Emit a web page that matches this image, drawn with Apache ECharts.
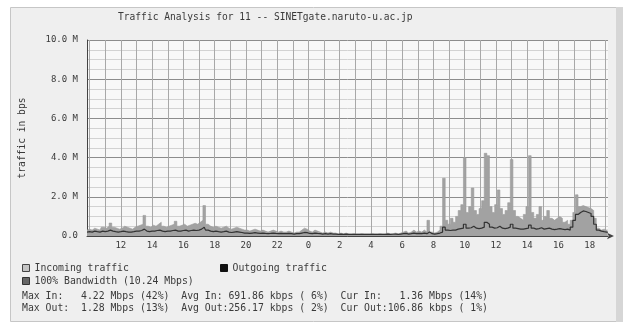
<!DOCTYPE html>
<html>
<head>
<meta charset="utf-8">
<script src="https://cdn.jsdelivr.net/npm/echarts@6/dist/echarts.min.js"></script>
<style>
  html, body { margin: 0; padding: 0; background: #fff; }
  #chart { width: 628px; height: 323px; }
</style>
</head>
<body>
<div id="chart"></div>
<script>
// samples every 10 minutes, starting 9:50 of day one
const startMinute = 9 * 60 + 50;
const stepMinutes = 10;

// incoming traffic, Mbps
const incoming = [
  0.3, 0.35, 0.3, 0.4, 0.35, 0.3, 0.45, 0.4, 0.5, 0.66, 0.45,
  0.4, 0.35, 0.4, 0.5, 0.45, 0.4, 0.35, 0.45, 0.5, 0.55, 0.6,
  1.05,
  0.5, 0.45, 0.55, 0.5, 0.6, 0.7, 0.5, 0.45, 0.5, 0.55, 0.6,
  0.75,
  0.5, 0.55, 0.6, 0.5, 0.55, 0.6, 0.65, 0.6, 0.7, 0.8,
  1.55,
  0.6, 0.5, 0.45, 0.5, 0.45, 0.4, 0.45, 0.5, 0.4, 0.35, 0.4, 0.45, 0.4, 0.35, 0.3,
  0.3, 0.25, 0.3, 0.35, 0.3, 0.25, 0.3, 0.25, 0.2, 0.25, 0.3, 0.25, 0.2, 0.25, 0.2, 0.2, 0.25, 0.2, 0.15, 0.2,
  0.2, 0.3, 0.4, 0.35, 0.25, 0.2, 0.3, 0.25, 0.2, 0.15, 0.2, 0.15, 0.2, 0.15, 0.15, 0.1, 0.15, 0.1, 0.15, 0.1,
  0.1, 0.12, 0.1, 0.1, 0.12, 0.1, 0.1, 0.1, 0.12, 0.1, 0.1, 0.12, 0.1, 0.1, 0.15, 0.1, 0.12, 0.15, 0.1, 0.15,
  0.2, 0.25, 0.15, 0.2, 0.3, 0.2, 0.25, 0.2, 0.3, 0.2, 0.8, 0.2, 0.15, 0.2, 0.3, 0.5, 2.95, 0.8, 0.6, 0.9,
  0.7, 1.0, 1.3, 1.6, 4.0, 1.2, 1.5, 2.45, 1.3, 1.1, 1.4, 1.8, 4.22, 4.1, 1.5, 1.2, 1.6, 2.35, 1.4, 1.1,
  1.3, 1.7, 3.9, 1.3, 1.0, 0.9, 0.8, 1.1, 1.5, 4.1, 1.2, 0.9, 1.1, 1.5, 0.8, 1.0, 1.3, 0.9, 0.8, 0.9,
  1.0, 0.9, 0.7, 0.8, 0.6, 0.8, 1.2, 2.1, 1.5, 1.55, 1.5, 1.45, 1.4, 1.3, 0.9, 0.4, 0.3, 0.35, 0.3, 0.3
];

// outgoing traffic, Mbps
const outgoing = [
  0.2, 0.22, 0.2, 0.25, 0.22, 0.2, 0.25, 0.22, 0.25, 0.3, 0.25, 0.22, 0.2, 0.22, 0.25, 0.22, 0.2, 0.2, 0.22, 0.25, 0.25,
  0.28, 0.35, 0.25, 0.22, 0.25, 0.25, 0.28, 0.3, 0.25, 0.22, 0.25, 0.25, 0.28, 0.3, 0.25, 0.25, 0.28, 0.3, 0.25, 0.28,
  0.3, 0.28, 0.3, 0.35, 0.45, 0.3, 0.25, 0.22, 0.25, 0.22, 0.2, 0.22, 0.25, 0.2, 0.18, 0.2, 0.22, 0.2, 0.18, 0.15,
  0.15, 0.13, 0.15, 0.17, 0.15, 0.13, 0.15, 0.13, 0.12, 0.13, 0.15, 0.13, 0.12, 0.13, 0.12, 0.12, 0.13, 0.12, 0.1, 0.12,
  0.12, 0.15, 0.18, 0.17, 0.13, 0.12, 0.15, 0.13, 0.12, 0.1, 0.12, 0.1, 0.12, 0.1, 0.1, 0.08, 0.1, 0.08, 0.1, 0.08,
  0.08, 0.09, 0.08, 0.08, 0.09, 0.08, 0.08, 0.08, 0.09, 0.08, 0.08, 0.09, 0.08, 0.08, 0.1, 0.08, 0.09, 0.1, 0.08, 0.1,
  0.12, 0.13, 0.1, 0.12, 0.15, 0.12, 0.13, 0.12, 0.15, 0.12, 0.2, 0.12, 0.1, 0.12, 0.15, 0.2, 0.45, 0.3, 0.28, 0.3,
  0.3, 0.35, 0.38, 0.4, 0.6, 0.4, 0.42, 0.5, 0.4, 0.38, 0.4, 0.45, 0.7, 0.6, 0.45, 0.4, 0.42, 0.5, 0.4, 0.38,
  0.4, 0.45, 0.6, 0.4, 0.38, 0.35, 0.35, 0.38, 0.4, 0.55, 0.4, 0.35, 0.38, 0.42, 0.35, 0.38, 0.4, 0.35, 0.33, 0.35,
  0.38, 0.35, 0.33, 0.35, 0.3, 0.45, 0.8, 1.1, 1.2, 1.28, 1.25, 1.2, 1.15, 1.0, 0.6, 0.3, 0.25, 0.22, 0.2, 0.2
];

const yMax = 10;
const yStep = 2;

const statsIn = "Max In:   4.22 Mbps (42%)  Avg In: 691.86 kbps ( 6%)  Cur In:   1.36 Mbps (14%)";
const statsOut = "Max Out:  1.28 Mbps (13%)  Avg Out:256.17 kbps ( 2%)  Cur Out:106.86 kbps ( 1%)";

const times = incoming.map((_, i) => {
  const m = (startMinute + i * stepMinutes) % 1440;
  return Math.floor(m / 60) + ":" + String(m % 60).padStart(2, "0");
});

const mono = "'DejaVu Sans Mono', monospace";
const textColor = "#3a3a3a";

const chart = echarts.init(document.getElementById("chart"), null, { renderer: "canvas" });

const legendBase = {
  orient: "horizontal",
  itemWidth: 7,
  itemHeight: 7,
  padding: 0,
  selectedMode: false,
  textStyle: { fontFamily: mono, fontSize: 9.8, color: textColor, padding: [0, 0, 0, 0] }
};

chart.setOption({
  backgroundColor: "#ffffff",
  animation: false,
  title: {
    text: "Traffic Analysis for 11 -- SINETgate.naruto-u.ac.jp",
    left: 118,
    top: 12,
    padding: 0,
    textStyle: { fontFamily: mono, fontSize: 9.6, fontWeight: "normal", color: textColor }
  },
  graphic: [
    {
      type: "rect", z: -10, silent: true,
      shape: { x: 10.5, y: 7.5, width: 606, height: 314 },
      style: { fill: "#efefef", stroke: "#c6c6c6", lineWidth: 1 }
    },
    {
      type: "rect", z: -9, silent: true,
      shape: { x: 616, y: 7, width: 7, height: 315 },
      style: { fill: "#d6d6d6" }
    },
    {
      type: "text", left: 22, top: 291,
      style: { text: statsIn, font: "9.8px " + mono, fill: textColor }
    },
    {
      type: "text", left: 22, top: 303,
      style: { text: statsOut, font: "9.8px " + mono, fill: textColor }
    }
  ],
  legend: [
    Object.assign({}, legendBase, {
      left: 22, top: 263,
      data: [{ name: "Incoming traffic", icon: "rect",
        itemStyle: { color: "#c4c4c4", borderColor: "#444", borderWidth: 1 } }]
    }),
    Object.assign({}, legendBase, {
      left: 220, top: 263,
      data: [{ name: "Outgoing traffic", icon: "rect",
        itemStyle: { color: "#111", borderColor: "#111", borderWidth: 1 } }]
    }),
    Object.assign({}, legendBase, {
      left: 22, top: 276,
      data: [{ name: "100% Bandwidth (10.24 Mbps)", icon: "rect",
        itemStyle: { color: "#666", borderColor: "#333", borderWidth: 1 } }]
    })
  ],
  grid: {
    left: 87, right: 20, top: 40, bottom: 87,
    show: true, backgroundColor: "#f8f8f8", borderWidth: 0
  },
  xAxis: {
    type: "category",
    data: times,
    boundaryGap: false,
    axisLine: { lineStyle: { color: "#444", width: 1 }, symbol: ["none", "arrow"], symbolSize: [5, 7], symbolOffset: [0, 6] },
    axisTick: { show: false },
    axisLabel: {
      fontFamily: mono, fontSize: 9, color: textColor, margin: 5,
      interval: (idx, val) => {
        const [h, m] = val.split(":");
        return m === "00" && Number(h) % 2 === 0 && idx > 6;
      },
      formatter: (val) => val.split(":")[0]
    },
    splitLine: {
      show: true,
      interval: (idx, val) => val.endsWith(":00"),
      lineStyle: { color: "#a8a8a8", width: 1 }
    }
  },
  yAxis: {
    type: "value",
    min: 0,
    max: yMax,
    interval: yStep,
    name: "traffic in bps",
    nameLocation: "middle",
    nameGap: 60,
    nameRotate: 90,
    nameTextStyle: { fontFamily: mono, fontSize: 9.6, color: textColor },
    axisLine: { show: true, lineStyle: { color: "#444", width: 1 } },
    axisTick: { show: false },
    axisLabel: {
      fontFamily: mono, fontSize: 9, color: textColor, margin: 9,
      formatter: (v) => v === 0 ? "0.0" : v.toFixed(1) + " M"
    },
    splitLine: { show: true, lineStyle: { color: "#8c8c8c", width: 1 } },
    minorTick: { show: false, splitNumber: 4 },
    minorSplitLine: { show: true, lineStyle: { color: "#d2d2d2", width: 1 } }
  },
  series: [
    {
      name: "Incoming traffic",
      type: "line",
      data: incoming,
      step: "middle",
      symbol: "none",
      lineStyle: { width: 0.6, color: "#9a9a9a" },
      itemStyle: { color: "#9a9a9a" },
      areaStyle: { color: "#a2a2a2", opacity: 1 },
      z: 2
    },
    {
      name: "Outgoing traffic",
      type: "line",
      data: outgoing,
      step: "middle",
      symbol: "none",
      lineStyle: { width: 1.2, color: "#333333" },
      itemStyle: { color: "#333333" },
      z: 3
    },
    {
      name: "100% Bandwidth (10.24 Mbps)",
      type: "line",
      data: [],
      symbol: "none"
    }
  ]
});
</script>
</body>
</html>
